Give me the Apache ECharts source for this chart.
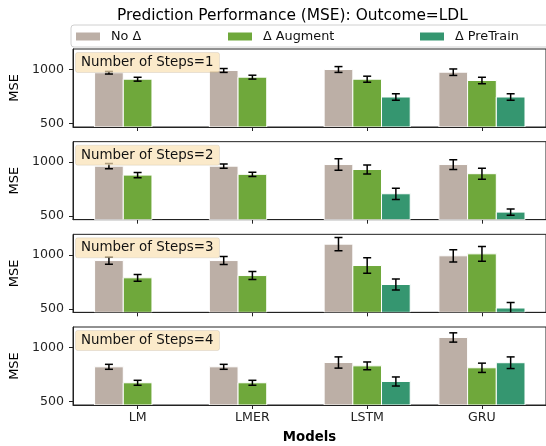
<!DOCTYPE html>
<html>
<head>
<meta charset="utf-8">
<script src="https://cdn.jsdelivr.net/npm/echarts@6/dist/echarts.min.js"></script>
<style>
  html, body { margin: 0; padding: 0; background: #fff; }
  #chart { width: 546px; height: 446px; }
</style>
</head>
<body>
<div id="chart"></div>
<script>
// Models on the x axis and the three training variants
const models = ['LM', 'LMER', 'LSTM', 'GRU'];
const variantNames = ['No Δ', 'Δ Augment', 'Δ PreTrain'];
const stepCounts = [1, 2, 3, 4];
const yTicks = [500, 1000];

// Mean MSE per panel (rows = number of steps) and model (columns)
const noDeltaMSE = [
  [970, 991, 1000, 975],
  [963, 963, 978, 978],
  [947, 947, 1099, 991],
  [821, 821, 861, 1093]
];
const noDeltaErr = [
  [12, 18, 27, 30],
  [25, 20, 54, 45],
  [34, 37, 62, 57],
  [23, 23, 52, 43]
];
const augmentMSE = [
  [910, 929, 910, 898],
  [880, 887, 932, 893],
  [787, 808, 901, 1009],
  [673, 673, 830, 812]
];
const augmentErr = [
  [18, 18, 28, 30],
  [25, 20, 42, 51],
  [31, 37, 72, 68],
  [23, 23, 36, 43]
];
const pretrainMSE = [
  [null, null, 745, 745],
  [null, null, 707, 537],
  [null, null, 725, 507],
  [null, null, 685, 859]
];
const pretrainErr = [
  [null, null, 30, 30],
  [null, null, 52, 29],
  [null, null, 51, 51],
  [null, null, 42, 54]
];

const variantColors = ['#bcafa6', '#6fa83b', '#359670'];
const meanTables = [noDeltaMSE, augmentMSE, pretrainMSE];
const errTables = [noDeltaErr, augmentErr, pretrainErr];

// Layout
const FONT = 'DejaVu Sans';
const PLOT_LEFT = 73;
const PLOT_WIDTH = 476;
const PANEL_TOP0 = 49;
const PANEL_STEP = 92.67;
const PANEL_H = 78;
const Y_MIN = 467, Y_MAX = 1190;
const X_MIN = -0.563, X_MAX = 3.558;
const BAR_W = 0.25;

const chart = echarts.init(document.getElementById('chart'), null, { renderer: 'canvas' });

const grids = [], xAxes = [], yAxes = [], series = [], titles = [];

titles.push({
  text: 'Prediction Performance (MSE): Outcome=LDL',
  left: 112, top: 3,
  textStyle: { fontFamily: FONT, fontSize: 15.4, fontWeight: 'normal', color: '#000' }
});

stepCounts.forEach((step, p) => {
  const top = PANEL_TOP0 + p * PANEL_STEP;
  const last = p === stepCounts.length - 1;
  grids.push({
    left: PLOT_LEFT, top: top, width: PLOT_WIDTH, height: PANEL_H,
    show: true, borderColor: '#222', borderWidth: 1, backgroundColor: 'transparent'
  });
  xAxes.push({
    type: 'value', gridIndex: p, min: X_MIN, max: X_MAX,
    axisLine: { show: true, onZero: false, lineStyle: { color: '#222', width: 1 } },
    axisTick: { show: true, length: 4, customValues: [0, 1, 2, 3], lineStyle: { color: '#222' } },
    axisLabel: {
      show: last, customValues: [0, 1, 2, 3], margin: 6,
      formatter: v => models[Math.round(v)] || '',
      fontFamily: FONT, fontSize: 12.6, color: '#222'
    },
    splitLine: { show: false },
    name: last ? 'Models' : '',
    nameLocation: 'middle', nameGap: 26,
    nameTextStyle: { fontFamily: FONT, fontSize: 13.3, fontWeight: 'bold', color: '#000' }
  });
  yAxes.push({
    type: 'value', gridIndex: p, min: Y_MIN, max: Y_MAX,
    axisLine: { show: true, onZero: false, lineStyle: { color: '#222', width: 1 } },
    axisTick: { show: true, length: 4, customValues: yTicks, lineStyle: { color: '#222' } },
    axisLabel: {
      customValues: yTicks, margin: 9, formatter: v => String(v),
      fontFamily: FONT, fontSize: 12.6, color: '#222'
    },
    splitLine: { show: false },
    name: 'MSE', nameLocation: 'middle', nameGap: 46, nameRotate: 90,
    nameTextStyle: { fontFamily: FONT, fontSize: 13, color: '#000' }
  });

  variantNames.forEach((name, s) => {
    const data = [];
    models.forEach((m, i) => {
      const v = meanTables[s][p][i];
      if (v !== null && v !== undefined) data.push([i, v, errTables[s][p][i]]);
    });
    series.push({
      type: 'custom', name: name, xAxisIndex: p, yAxisIndex: p,
      clip: true,
      encode: { x: 0, y: 1 },
      itemStyle: { color: variantColors[s] },
      data: data,
      renderItem: (params, api) => {
        const xi = api.value(0), v = api.value(1), e = api.value(2);
        const cx = xi + (s - 1) * BAR_W;
        const tl = api.coord([cx - BAR_W / 2, v]);
        const br = api.coord([cx + BAR_W / 2, Y_MIN]);
        const c = api.coord([cx, v]);
        const hi = api.coord([cx, v + e]);
        const lo = api.coord([cx, v - e]);
        const cap = 4;
        return {
          type: 'group',
          children: [
            { type: 'rect',
              shape: { x: tl[0], y: tl[1], width: br[0] - tl[0], height: br[1] - tl[1] },
              style: { fill: variantColors[s], stroke: '#fff', lineWidth: 1 } },
            { type: 'line', shape: { x1: c[0], y1: hi[1], x2: c[0], y2: lo[1] },
              style: { stroke: '#000', lineWidth: 1.5 } },
            { type: 'line', shape: { x1: c[0] - cap, y1: hi[1], x2: c[0] + cap, y2: hi[1] },
              style: { stroke: '#000', lineWidth: 1.5 } },
            { type: 'line', shape: { x1: c[0] - cap, y1: lo[1], x2: c[0] + cap, y2: lo[1] },
              style: { stroke: '#000', lineWidth: 1.5 } }
          ]
        };
      }
    });
  });

  titles.push({
    text: 'Number of Steps=' + step,
    left: PLOT_LEFT + 2, top: top + 3,
    padding: [4, 6, 4, 6],
    backgroundColor: 'rgba(250, 225, 180, 0.7)',
    borderColor: 'rgba(0,0,0,0.08)', borderWidth: 1, borderRadius: 2,
    textStyle: { fontFamily: FONT, fontSize: 13.4, fontWeight: 'normal', color: '#111' }
  });
});

// One legend entry per variant, spread across the framed legend strip
const legendLefts = [76, 228, 420];
const legends = variantNames.map((name, s) => ({
  data: [name],
  left: legendLefts[s], top: 30,
  padding: 0, itemWidth: 24, itemHeight: 8, icon: 'rect',
  selectedMode: false, z: 5,
  textStyle: { fontFamily: FONT, fontSize: 12.8, color: '#111', padding: [0, 0, 0, 6] }
}));

chart.setOption({
  animation: false,
  backgroundColor: '#fff',
  title: titles,
  legend: legends,
  grid: grids,
  xAxis: xAxes,
  yAxis: yAxes,
  series: series,
  graphic: [{
    type: 'rect', z: 1,
    shape: { x: 71, y: 25, width: 490, height: 22, r: 3 },
    style: { fill: '#fff', stroke: '#d0d0d0', lineWidth: 1 }
  }]
});
</script>
</body>
</html>
